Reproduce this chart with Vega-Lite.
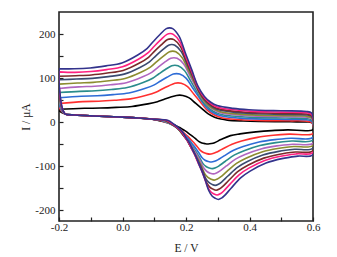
{
"$schema": "https://vega.github.io/schema/vega-lite/v6.json",
"width": 254, "height": 209,
"autosize": {"type": "none"},
"padding": {"left": 59, "top": 12, "right": 24, "bottom": 36},
"background": "white",
"config": {"view": {"stroke": "#222", "strokeWidth": 1.6}, "font": "Liberation Serif"},
"data": {"values": [
{"s":0,"e":-0.2,"v":29},{"s":0,"e":-0.12,"v":31.1},{"s":0,"e":-0.07,"v":31.7},{"s":0,"e":-0.02,"v":33.2},{"s":0,"e":0.03,"v":35.4},{"s":0,"e":0.08,"v":41.2},{"s":0,"e":0.11,"v":46.1},{"s":0,"e":0.13,"v":51.2},{"s":0,"e":0.15,"v":56.1},{"s":0,"e":0.17,"v":60.4},{"s":0,"e":0.18,"v":61},{"s":0,"e":0.19,"v":60.4},{"s":0,"e":0.21,"v":54.9},{"s":0,"e":0.23,"v":42.7},{"s":0,"e":0.25,"v":30.5},{"s":0,"e":0.27,"v":18.3},{"s":0,"e":0.29,"v":11},{"s":0,"e":0.31,"v":6.7},{"s":0,"e":0.33,"v":4.3},{"s":0,"e":0.38,"v":2.3},{"s":0,"e":0.43,"v":1.3},{"s":0,"e":0.53,"v":0.5},{"s":0,"e":0.58,"v":0},{"s":0,"e":0.595,"v":-1},{"s":0,"e":0.6,"v":-4},
{"s":0,"e":0.6,"v":-17},{"s":0,"e":0.52,"v":-18},{"s":0,"e":0.47,"v":-19.5},{"s":0,"e":0.42,"v":-22.5},{"s":0,"e":0.37,"v":-27},{"s":0,"e":0.34,"v":-31},{"s":0,"e":0.31,"v":-40},{"s":0,"e":0.29,"v":-47},{"s":0,"e":0.28,"v":-49},{"s":0,"e":0.27,"v":-50},{"s":0,"e":0.26,"v":-49.2},{"s":0,"e":0.25,"v":-47.6},{"s":0,"e":0.24,"v":-44.1},{"s":0,"e":0.23,"v":-37.8},{"s":0,"e":0.22,"v":-32},{"s":0,"e":0.21,"v":-26.9},{"s":0,"e":0.2,"v":-21.4},{"s":0,"e":0.19,"v":-17.1},{"s":0,"e":0.18,"v":-12.4},{"s":0,"e":0.17,"v":-9.2},{"s":0,"e":0.16,"v":-5.5},{"s":0,"e":0.15,"v":-2.8},{"s":0,"e":0.13,"v":0.6},{"s":0,"e":0.11,"v":4},
{"s":0,"e":0.1,"v":6},{"s":0,"e":0.05,"v":9},{"s":0,"e":0,"v":11},{"s":0,"e":-0.05,"v":12.5},{"s":0,"e":-0.1,"v":14},{"s":0,"e":-0.15,"v":16},{"s":0,"e":-0.18,"v":18},{"s":0,"e":-0.188,"v":20.7},{"s":0,"e":-0.193,"v":22},{"s":0,"e":-0.197,"v":24.1},{"s":0,"e":-0.2,"v":26.3},{"s":0,"e":-0.2,"v":29},

{"s":1,"e":-0.2,"v":42},{"s":1,"e":-0.125,"v":46.4},{"s":1,"e":-0.075,"v":47.2},{"s":1,"e":-0.025,"v":49.4},{"s":1,"e":0.025,"v":52.5},{"s":1,"e":0.075,"v":60.7},{"s":1,"e":0.105,"v":67.7},{"s":1,"e":0.125,"v":75.1},{"s":1,"e":0.145,"v":82},{"s":1,"e":0.165,"v":88.2},{"s":1,"e":0.175,"v":89},{"s":1,"e":0.185,"v":88.1},{"s":1,"e":0.205,"v":80.3},{"s":1,"e":0.225,"v":62.9},{"s":1,"e":0.245,"v":45.5},{"s":1,"e":0.265,"v":28.1},{"s":1,"e":0.285,"v":17.7},{"s":1,"e":0.305,"v":11.6},{"s":1,"e":0.325,"v":8.1},{"s":1,"e":0.375,"v":5.2},{"s":1,"e":0.425,"v":3.8},{"s":1,"e":0.525,"v":2.7},{"s":1,"e":0.58,"v":2},{"s":1,"e":0.595,"v":-1},{"s":1,"e":0.6,"v":-6},
{"s":1,"e":0.6,"v":-26},{"s":1,"e":0.525,"v":-27.6},{"s":1,"e":0.475,"v":-30.2},{"s":1,"e":0.425,"v":-34.9},{"s":1,"e":0.375,"v":-43.4},{"s":1,"e":0.345,"v":-50.4},{"s":1,"e":0.315,"v":-61.2},{"s":1,"e":0.295,"v":-68.8},{"s":1,"e":0.285,"v":-71.6},{"s":1,"e":0.275,"v":-73},{"s":1,"e":0.265,"v":-71.9},{"s":1,"e":0.255,"v":-69.5},{"s":1,"e":0.245,"v":-64.6},{"s":1,"e":0.235,"v":-55.5},{"s":1,"e":0.225,"v":-47.2},{"s":1,"e":0.215,"v":-39.9},{"s":1,"e":0.205,"v":-32},{"s":1,"e":0.195,"v":-25.9},{"s":1,"e":0.185,"v":-19},{"s":1,"e":0.175,"v":-14.5},{"s":1,"e":0.165,"v":-9.2},{"s":1,"e":0.155,"v":-5.4},{"s":1,"e":0.135,"v":-0.4},{"s":1,"e":0.115,"v":4},
{"s":1,"e":0.1,"v":6},{"s":1,"e":0.05,"v":9},{"s":1,"e":0,"v":11},{"s":1,"e":-0.05,"v":12.5},{"s":1,"e":-0.1,"v":14},{"s":1,"e":-0.15,"v":16},{"s":1,"e":-0.18,"v":18},{"s":1,"e":-0.188,"v":21.8},{"s":1,"e":-0.193,"v":24.8},{"s":1,"e":-0.197,"v":29.9},{"s":1,"e":-0.2,"v":35.4},{"s":1,"e":-0.2,"v":42},

{"s":2,"e":-0.2,"v":55},{"s":2,"e":-0.13,"v":58.6},{"s":2,"e":-0.08,"v":59.6},{"s":2,"e":-0.03,"v":62.2},{"s":2,"e":0.02,"v":65.9},{"s":2,"e":0.07,"v":75.9},{"s":2,"e":0.1,"v":84.3},{"s":2,"e":0.12,"v":93.2},{"s":2,"e":0.14,"v":101.7},{"s":2,"e":0.16,"v":108.9},{"s":2,"e":0.17,"v":110},{"s":2,"e":0.18,"v":108.9},{"s":2,"e":0.2,"v":99.6},{"s":2,"e":0.22,"v":78.5},{"s":2,"e":0.24,"v":57.5},{"s":2,"e":0.26,"v":36.5},{"s":2,"e":0.28,"v":23.9},{"s":2,"e":0.3,"v":16.6},{"s":2,"e":0.32,"v":12.4},{"s":2,"e":0.37,"v":8.9},{"s":2,"e":0.42,"v":7.2},{"s":2,"e":0.52,"v":5.8},{"s":2,"e":0.58,"v":5},{"s":2,"e":0.595,"v":2},{"s":2,"e":0.6,"v":-3},
{"s":2,"e":0.6,"v":-35},{"s":2,"e":0.53,"v":-37},{"s":2,"e":0.48,"v":-40},{"s":2,"e":0.43,"v":-45.6},{"s":2,"e":0.38,"v":-55.7},{"s":2,"e":0.35,"v":-64.1},{"s":2,"e":0.32,"v":-77},{"s":2,"e":0.3,"v":-86},{"s":2,"e":0.29,"v":-89.3},{"s":2,"e":0.28,"v":-91},{"s":2,"e":0.27,"v":-89.6},{"s":2,"e":0.26,"v":-86.8},{"s":2,"e":0.25,"v":-80.7},{"s":2,"e":0.24,"v":-69.4},{"s":2,"e":0.23,"v":-59},{"s":2,"e":0.22,"v":-50.1},{"s":2,"e":0.21,"v":-40.2},{"s":2,"e":0.2,"v":-32.7},{"s":2,"e":0.19,"v":-24.3},{"s":2,"e":0.18,"v":-18.6},{"s":2,"e":0.17,"v":-12},{"s":2,"e":0.16,"v":-7.3},{"s":2,"e":0.14,"v":-1.2},{"s":2,"e":0.12,"v":4},
{"s":2,"e":0.1,"v":6},{"s":2,"e":0.05,"v":9},{"s":2,"e":0,"v":11},{"s":2,"e":-0.05,"v":12.5},{"s":2,"e":-0.1,"v":14},{"s":2,"e":-0.15,"v":16},{"s":2,"e":-0.18,"v":18},{"s":2,"e":-0.188,"v":22.8},{"s":2,"e":-0.193,"v":27.7},{"s":2,"e":-0.197,"v":35.8},{"s":2,"e":-0.2,"v":44.5},{"s":2,"e":-0.2,"v":55},

{"s":3,"e":-0.2,"v":67},{"s":3,"e":-0.135,"v":69.7},{"s":3,"e":-0.085,"v":70.9},{"s":3,"e":-0.035,"v":73.9},{"s":3,"e":0.015,"v":78.2},{"s":3,"e":0.065,"v":89.7},{"s":3,"e":0.095,"v":99.4},{"s":3,"e":0.115,"v":109.6},{"s":3,"e":0.135,"v":119.3},{"s":3,"e":0.155,"v":127.8},{"s":3,"e":0.165,"v":129},{"s":3,"e":0.175,"v":127.8},{"s":3,"e":0.195,"v":116.9},{"s":3,"e":0.215,"v":92.7},{"s":3,"e":0.235,"v":68.5},{"s":3,"e":0.255,"v":44.3},{"s":3,"e":0.275,"v":29.8},{"s":3,"e":0.295,"v":21.3},{"s":3,"e":0.315,"v":16.5},{"s":3,"e":0.365,"v":12.5},{"s":3,"e":0.415,"v":10.5},{"s":3,"e":0.515,"v":9},{"s":3,"e":0.58,"v":8},{"s":3,"e":0.595,"v":5},{"s":3,"e":0.6,"v":0},
{"s":3,"e":0.6,"v":-41},{"s":3,"e":0.533,"v":-43.3},{"s":3,"e":0.483,"v":-46.9},{"s":3,"e":0.433,"v":-53.4},{"s":3,"e":0.383,"v":-65.1},{"s":3,"e":0.353,"v":-74.8},{"s":3,"e":0.323,"v":-89.8},{"s":3,"e":0.303,"v":-100.2},{"s":3,"e":0.293,"v":-104.1},{"s":3,"e":0.283,"v":-106},{"s":3,"e":0.273,"v":-104.4},{"s":3,"e":0.263,"v":-101.1},{"s":3,"e":0.253,"v":-94},{"s":3,"e":0.243,"v":-80.9},{"s":3,"e":0.233,"v":-68.9},{"s":3,"e":0.223,"v":-58.6},{"s":3,"e":0.213,"v":-47.1},{"s":3,"e":0.203,"v":-38.4},{"s":3,"e":0.193,"v":-28.6},{"s":3,"e":0.183,"v":-22.1},{"s":3,"e":0.173,"v":-14.4},{"s":3,"e":0.163,"v":-9},{"s":3,"e":0.143,"v":-1.9},{"s":3,"e":0.123,"v":4},
{"s":3,"e":0.1,"v":6},{"s":3,"e":0.05,"v":9},{"s":3,"e":0,"v":11},{"s":3,"e":-0.05,"v":12.5},{"s":3,"e":-0.1,"v":14},{"s":3,"e":-0.15,"v":16},{"s":3,"e":-0.18,"v":18},{"s":3,"e":-0.188,"v":23.8},{"s":3,"e":-0.193,"v":30.3},{"s":3,"e":-0.197,"v":41.2},{"s":3,"e":-0.2,"v":52.9},{"s":3,"e":-0.2,"v":67},

{"s":4,"e":-0.2,"v":76},{"s":4,"e":-0.138,"v":79.9},{"s":4,"e":-0.088,"v":81.2},{"s":4,"e":-0.038,"v":84.6},{"s":4,"e":0.012,"v":89.3},{"s":4,"e":0.062,"v":102.1},{"s":4,"e":0.092,"v":112.9},{"s":4,"e":0.112,"v":124.4},{"s":4,"e":0.132,"v":135.3},{"s":4,"e":0.152,"v":144.7},{"s":4,"e":0.162,"v":146},{"s":4,"e":0.172,"v":144.7},{"s":4,"e":0.192,"v":132.6},{"s":4,"e":0.212,"v":105.5},{"s":4,"e":0.232,"v":78.5},{"s":4,"e":0.252,"v":51.5},{"s":4,"e":0.272,"v":35.3},{"s":4,"e":0.292,"v":25.9},{"s":4,"e":0.312,"v":20.5},{"s":4,"e":0.362,"v":16},{"s":4,"e":0.412,"v":13.8},{"s":4,"e":0.512,"v":12.1},{"s":4,"e":0.58,"v":11},{"s":4,"e":0.595,"v":8},{"s":4,"e":0.6,"v":2},
{"s":4,"e":0.6,"v":-48},{"s":4,"e":0.536,"v":-50.5},{"s":4,"e":0.486,"v":-54.3},{"s":4,"e":0.436,"v":-61.3},{"s":4,"e":0.386,"v":-73.9},{"s":4,"e":0.356,"v":-84.4},{"s":4,"e":0.326,"v":-100.5},{"s":4,"e":0.306,"v":-111.7},{"s":4,"e":0.296,"v":-115.9},{"s":4,"e":0.286,"v":-118},{"s":4,"e":0.276,"v":-116.2},{"s":4,"e":0.266,"v":-112.5},{"s":4,"e":0.256,"v":-104.7},{"s":4,"e":0.246,"v":-90.2},{"s":4,"e":0.236,"v":-76.9},{"s":4,"e":0.226,"v":-65.4},{"s":4,"e":0.216,"v":-52.7},{"s":4,"e":0.206,"v":-43},{"s":4,"e":0.196,"v":-32.1},{"s":4,"e":0.186,"v":-24.8},{"s":4,"e":0.176,"v":-16.4},{"s":4,"e":0.166,"v":-10.3},{"s":4,"e":0.146,"v":-2.4},{"s":4,"e":0.126,"v":4},
{"s":4,"e":0.1,"v":6},{"s":4,"e":0.05,"v":9},{"s":4,"e":0,"v":11},{"s":4,"e":-0.05,"v":12.5},{"s":4,"e":-0.1,"v":14},{"s":4,"e":-0.15,"v":16},{"s":4,"e":-0.18,"v":18},{"s":4,"e":-0.188,"v":24.5},{"s":4,"e":-0.193,"v":32.3},{"s":4,"e":-0.197,"v":45.2},{"s":4,"e":-0.2,"v":59.2},{"s":4,"e":-0.2,"v":76},

{"s":5,"e":-0.2,"v":86},{"s":5,"e":-0.142,"v":88.5},{"s":5,"e":-0.092,"v":90},{"s":5,"e":-0.042,"v":93.7},{"s":5,"e":0.008,"v":98.8},{"s":5,"e":0.058,"v":112.9},{"s":5,"e":0.088,"v":124.7},{"s":5,"e":0.108,"v":137.3},{"s":5,"e":0.128,"v":149.1},{"s":5,"e":0.148,"v":159.5},{"s":5,"e":0.158,"v":161},{"s":5,"e":0.168,"v":159.5},{"s":5,"e":0.188,"v":146.2},{"s":5,"e":0.208,"v":116.6},{"s":5,"e":0.228,"v":87},{"s":5,"e":0.248,"v":57.4},{"s":5,"e":0.268,"v":39.6},{"s":5,"e":0.288,"v":29.3},{"s":5,"e":0.308,"v":23.4},{"s":5,"e":0.358,"v":18.5},{"s":5,"e":0.408,"v":16.1},{"s":5,"e":0.508,"v":14.2},{"s":5,"e":0.58,"v":13},{"s":5,"e":0.595,"v":10},{"s":5,"e":0.6,"v":4},
{"s":5,"e":0.6,"v":-53},{"s":5,"e":0.539,"v":-55.8},{"s":5,"e":0.489,"v":-60.1},{"s":5,"e":0.439,"v":-68},{"s":5,"e":0.389,"v":-82.2},{"s":5,"e":0.359,"v":-94.1},{"s":5,"e":0.329,"v":-112.3},{"s":5,"e":0.309,"v":-124.9},{"s":5,"e":0.299,"v":-129.6},{"s":5,"e":0.289,"v":-132},{"s":5,"e":0.279,"v":-130},{"s":5,"e":0.269,"v":-125.9},{"s":5,"e":0.259,"v":-117.2},{"s":5,"e":0.249,"v":-101},{"s":5,"e":0.239,"v":-86.1},{"s":5,"e":0.229,"v":-73.3},{"s":5,"e":0.219,"v":-59.1},{"s":5,"e":0.209,"v":-48.3},{"s":5,"e":0.199,"v":-36.2},{"s":5,"e":0.189,"v":-28.1},{"s":5,"e":0.179,"v":-18.6},{"s":5,"e":0.169,"v":-11.9},{"s":5,"e":0.149,"v":-3.1},{"s":5,"e":0.129,"v":4},
{"s":5,"e":0.1,"v":6},{"s":5,"e":0.05,"v":9},{"s":5,"e":0,"v":11},{"s":5,"e":-0.05,"v":12.5},{"s":5,"e":-0.1,"v":14},{"s":5,"e":-0.15,"v":16},{"s":5,"e":-0.18,"v":18},{"s":5,"e":-0.188,"v":25.3},{"s":5,"e":-0.193,"v":34.5},{"s":5,"e":-0.197,"v":49.7},{"s":5,"e":-0.2,"v":66.2},{"s":5,"e":-0.2,"v":86},

{"s":6,"e":-0.2,"v":96},{"s":6,"e":-0.145,"v":97.6},{"s":6,"e":-0.095,"v":99.2},{"s":6,"e":-0.045,"v":103.2},{"s":6,"e":0.005,"v":108.8},{"s":6,"e":0.055,"v":124},{"s":6,"e":0.085,"v":136.8},{"s":6,"e":0.105,"v":150.4},{"s":6,"e":0.125,"v":163.2},{"s":6,"e":0.145,"v":174.4},{"s":6,"e":0.155,"v":176},{"s":6,"e":0.165,"v":174.4},{"s":6,"e":0.185,"v":160},{"s":6,"e":0.205,"v":128},{"s":6,"e":0.225,"v":96},{"s":6,"e":0.245,"v":64},{"s":6,"e":0.265,"v":44.8},{"s":6,"e":0.285,"v":33.6},{"s":6,"e":0.305,"v":27.2},{"s":6,"e":0.355,"v":21.9},{"s":6,"e":0.405,"v":19.4},{"s":6,"e":0.505,"v":17.3},{"s":6,"e":0.58,"v":16},{"s":6,"e":0.595,"v":13},{"s":6,"e":0.6,"v":6},
{"s":6,"e":0.6,"v":-59},{"s":6,"e":0.542,"v":-62},{"s":6,"e":0.492,"v":-66.7},{"s":6,"e":0.442,"v":-75.2},{"s":6,"e":0.392,"v":-90.5},{"s":6,"e":0.362,"v":-103.2},{"s":6,"e":0.332,"v":-122.8},{"s":6,"e":0.312,"v":-136.4},{"s":6,"e":0.302,"v":-141.5},{"s":6,"e":0.292,"v":-144},{"s":6,"e":0.282,"v":-141.8},{"s":6,"e":0.272,"v":-137.4},{"s":6,"e":0.262,"v":-127.9},{"s":6,"e":0.252,"v":-110.2},{"s":6,"e":0.242,"v":-94},{"s":6,"e":0.232,"v":-80.1},{"s":6,"e":0.222,"v":-64.6},{"s":6,"e":0.212,"v":-52.9},{"s":6,"e":0.202,"v":-39.6},{"s":6,"e":0.192,"v":-30.8},{"s":6,"e":0.182,"v":-20.5},{"s":6,"e":0.172,"v":-13.2},{"s":6,"e":0.152,"v":-3.6},{"s":6,"e":0.132,"v":4},
{"s":6,"e":0.1,"v":6},{"s":6,"e":0.05,"v":9},{"s":6,"e":0,"v":11},{"s":6,"e":-0.05,"v":12.5},{"s":6,"e":-0.1,"v":14},{"s":6,"e":-0.15,"v":16},{"s":6,"e":-0.18,"v":18},{"s":6,"e":-0.188,"v":26.1},{"s":6,"e":-0.193,"v":36.7},{"s":6,"e":-0.197,"v":54.2},{"s":6,"e":-0.2,"v":73.2},{"s":6,"e":-0.2,"v":96},

{"s":7,"e":-0.2,"v":104},{"s":7,"e":-0.148,"v":105.2},{"s":7,"e":-0.098,"v":106.9},{"s":7,"e":-0.048,"v":111.2},{"s":7,"e":0.002,"v":117.2},{"s":7,"e":0.052,"v":133.4},{"s":7,"e":0.082,"v":147.1},{"s":7,"e":0.102,"v":161.7},{"s":7,"e":0.122,"v":175.3},{"s":7,"e":0.142,"v":187.3},{"s":7,"e":0.152,"v":189},{"s":7,"e":0.162,"v":187.3},{"s":7,"e":0.182,"v":171.9},{"s":7,"e":0.202,"v":137.7},{"s":7,"e":0.222,"v":103.5},{"s":7,"e":0.242,"v":69.3},{"s":7,"e":0.262,"v":48.8},{"s":7,"e":0.282,"v":36.8},{"s":7,"e":0.302,"v":30},{"s":7,"e":0.352,"v":24.3},{"s":7,"e":0.402,"v":21.6},{"s":7,"e":0.502,"v":19.4},{"s":7,"e":0.58,"v":18},{"s":7,"e":0.595,"v":15},{"s":7,"e":0.6,"v":8},
{"s":7,"e":0.6,"v":-65},{"s":7,"e":0.545,"v":-68.2},{"s":7,"e":0.495,"v":-73.1},{"s":7,"e":0.445,"v":-82.1},{"s":7,"e":0.395,"v":-98.3},{"s":7,"e":0.365,"v":-111.8},{"s":7,"e":0.335,"v":-132.5},{"s":7,"e":0.315,"v":-146.9},{"s":7,"e":0.305,"v":-152.3},{"s":7,"e":0.295,"v":-155},{"s":7,"e":0.285,"v":-152.6},{"s":7,"e":0.275,"v":-147.9},{"s":7,"e":0.265,"v":-137.7},{"s":7,"e":0.255,"v":-118.7},{"s":7,"e":0.245,"v":-101.3},{"s":7,"e":0.235,"v":-86.3},{"s":7,"e":0.225,"v":-69.7},{"s":7,"e":0.215,"v":-57},{"s":7,"e":0.205,"v":-42.8},{"s":7,"e":0.195,"v":-33.3},{"s":7,"e":0.185,"v":-22.3},{"s":7,"e":0.175,"v":-14.4},{"s":7,"e":0.155,"v":-4.1},{"s":7,"e":0.135,"v":4},
{"s":7,"e":0.1,"v":6},{"s":7,"e":0.05,"v":9},{"s":7,"e":0,"v":11},{"s":7,"e":-0.05,"v":12.5},{"s":7,"e":-0.1,"v":14},{"s":7,"e":-0.15,"v":16},{"s":7,"e":-0.18,"v":18},{"s":7,"e":-0.188,"v":26.7},{"s":7,"e":-0.193,"v":38.5},{"s":7,"e":-0.197,"v":57.8},{"s":7,"e":-0.2,"v":78.8},{"s":7,"e":-0.2,"v":104},

{"s":8,"e":-0.2,"v":114},{"s":8,"e":-0.15,"v":112.8},{"s":8,"e":-0.1,"v":114.6},{"s":8,"e":-0.05,"v":119.1},{"s":8,"e":0,"v":125.4},{"s":8,"e":0.05,"v":142.5},{"s":8,"e":0.08,"v":156.9},{"s":8,"e":0.1,"v":172.2},{"s":8,"e":0.12,"v":186.6},{"s":8,"e":0.14,"v":199.2},{"s":8,"e":0.15,"v":201},{"s":8,"e":0.16,"v":199.2},{"s":8,"e":0.18,"v":183},{"s":8,"e":0.2,"v":147},{"s":8,"e":0.22,"v":111},{"s":8,"e":0.24,"v":75},{"s":8,"e":0.26,"v":53.4},{"s":8,"e":0.28,"v":40.8},{"s":8,"e":0.3,"v":33.6},{"s":8,"e":0.35,"v":27.7},{"s":8,"e":0.4,"v":24.8},{"s":8,"e":0.5,"v":22.4},{"s":8,"e":0.58,"v":21},{"s":8,"e":0.595,"v":18},{"s":8,"e":0.6,"v":10},
{"s":8,"e":0.6,"v":-69},{"s":8,"e":0.548,"v":-72.4},{"s":8,"e":0.498,"v":-77.7},{"s":8,"e":0.448,"v":-87.4},{"s":8,"e":0.398,"v":-104.9},{"s":8,"e":0.368,"v":-119.4},{"s":8,"e":0.338,"v":-141.7},{"s":8,"e":0.318,"v":-157.3},{"s":8,"e":0.308,"v":-163.1},{"s":8,"e":0.298,"v":-166},{"s":8,"e":0.288,"v":-163.5},{"s":8,"e":0.278,"v":-158.4},{"s":8,"e":0.268,"v":-147.4},{"s":8,"e":0.258,"v":-127.1},{"s":8,"e":0.248,"v":-108.5},{"s":8,"e":0.238,"v":-92.5},{"s":8,"e":0.228,"v":-74.7},{"s":8,"e":0.218,"v":-61.2},{"s":8,"e":0.208,"v":-46},{"s":8,"e":0.198,"v":-35.9},{"s":8,"e":0.188,"v":-24},{"s":8,"e":0.178,"v":-15.6},{"s":8,"e":0.158,"v":-4.6},{"s":8,"e":0.138,"v":4},
{"s":8,"e":0.1,"v":6},{"s":8,"e":0.05,"v":9},{"s":8,"e":0,"v":11},{"s":8,"e":-0.05,"v":12.5},{"s":8,"e":-0.1,"v":14},{"s":8,"e":-0.15,"v":16},{"s":8,"e":-0.18,"v":18},{"s":8,"e":-0.188,"v":27.5},{"s":8,"e":-0.193,"v":40.7},{"s":8,"e":-0.197,"v":62.3},{"s":8,"e":-0.2,"v":85.8},{"s":8,"e":-0.2,"v":114},

{"s":9,"e":-0.2,"v":121},{"s":9,"e":-0.152,"v":120.9},{"s":9,"e":-0.102,"v":122.8},{"s":9,"e":-0.052,"v":127.6},{"s":9,"e":-0.002,"v":134.2},{"s":9,"e":0.048,"v":152.3},{"s":9,"e":0.078,"v":167.5},{"s":9,"e":0.098,"v":183.7},{"s":9,"e":0.118,"v":198.8},{"s":9,"e":0.138,"v":212.2},{"s":9,"e":0.148,"v":214},{"s":9,"e":0.158,"v":212.2},{"s":9,"e":0.178,"v":195},{"s":9,"e":0.198,"v":157},{"s":9,"e":0.218,"v":119},{"s":9,"e":0.238,"v":81},{"s":9,"e":0.258,"v":58.2},{"s":9,"e":0.278,"v":44.9},{"s":9,"e":0.298,"v":37.3},{"s":9,"e":0.348,"v":31},{"s":9,"e":0.398,"v":28},{"s":9,"e":0.498,"v":25.5},{"s":9,"e":0.58,"v":24},{"s":9,"e":0.595,"v":21},{"s":9,"e":0.6,"v":12},
{"s":9,"e":0.6,"v":-74},{"s":9,"e":0.552,"v":-77.6},{"s":9,"e":0.502,"v":-83.2},{"s":9,"e":0.452,"v":-93.4},{"s":9,"e":0.402,"v":-111.7},{"s":9,"e":0.372,"v":-127},{"s":9,"e":0.342,"v":-150.5},{"s":9,"e":0.322,"v":-166.9},{"s":9,"e":0.312,"v":-172.9},{"s":9,"e":0.302,"v":-176},{"s":9,"e":0.292,"v":-173.3},{"s":9,"e":0.282,"v":-168},{"s":9,"e":0.272,"v":-156.3},{"s":9,"e":0.262,"v":-134.8},{"s":9,"e":0.252,"v":-115.1},{"s":9,"e":0.242,"v":-98.1},{"s":9,"e":0.232,"v":-79.3},{"s":9,"e":0.222,"v":-65},{"s":9,"e":0.212,"v":-48.9},{"s":9,"e":0.202,"v":-38.2},{"s":9,"e":0.192,"v":-25.6},{"s":9,"e":0.182,"v":-16.7},{"s":9,"e":0.162,"v":-5.1},{"s":9,"e":0.142,"v":4},
{"s":9,"e":0.1,"v":6},{"s":9,"e":0.05,"v":9},{"s":9,"e":0,"v":11},{"s":9,"e":-0.05,"v":12.5},{"s":9,"e":-0.1,"v":14},{"s":9,"e":-0.15,"v":16},{"s":9,"e":-0.18,"v":18},{"s":9,"e":-0.188,"v":28.1},{"s":9,"e":-0.193,"v":42.2},{"s":9,"e":-0.197,"v":65.5},{"s":9,"e":-0.2,"v":90.7},{"s":9,"e":-0.2,"v":121}
]},
"mark": {"type": "line", "strokeWidth": 1.6, "clip": true, "interpolate": "catmull-rom"},
"encoding": {
"x": {"field": "e", "type": "quantitative",
 "scale": {"domain": [-0.2, 0.6], "nice": false, "zero": false},
 "axis": {"values": [-0.2,-0.1,0,0.1,0.2,0.3,0.4,0.5,0.6],
  "labelExpr": "abs(round(datum.value*10)) % 2 == 1 ? '' : (datum.value < -0.001 ? '-' : '') + format(abs(datum.value), '.1f')",
  "tickSize": -4, "tickColor": "#222", "tickWidth": 1.2, "domain": false, "grid": false,
  "labelFont": "Liberation Serif", "labelFontSize": 11, "labelColor": "#222", "labelPadding": 4, "labelFlush": false,
  "title": "E / V", "titleFont": "Liberation Serif", "titleFontSize": 11.5, "titleFontWeight": "normal", "titleColor": "#222", "titlePadding": 10}},
"y": {"field": "v", "type": "quantitative",
 "scale": {"domain": [-225, 250], "nice": false, "zero": false},
 "axis": {"values": [-200,-150,-100,-50,0,50,100,150,200],
  "labelExpr": "datum.value % 100 != 0 ? '' : (datum.value < 0 ? '-' : '') + format(abs(datum.value), 'd')",
  "tickSize": -4, "tickColor": "#222", "tickWidth": 1.2, "domain": false, "grid": false,
  "labelFont": "Liberation Serif", "labelFontSize": 11, "labelColor": "#222", "labelPadding": 8,
  "title": "I / μA", "titleFont": "Liberation Serif", "titleFontSize": 11.5, "titleFontWeight": "normal", "titleColor": "#222", "titlePadding": 3}},
"color": {"field": "s", "type": "nominal",
 "scale": {"domain": [0,1,2,3,4,5,6,7,8,9], "range": ["#000000","#ff3030","#2e6cd6","#2a8c8c","#b066c0","#8c8c30","#3a4a70","#7a2a2a","#ff2080","#33338c"]},
 "legend": null},
"order": {"value": null}
}
}
